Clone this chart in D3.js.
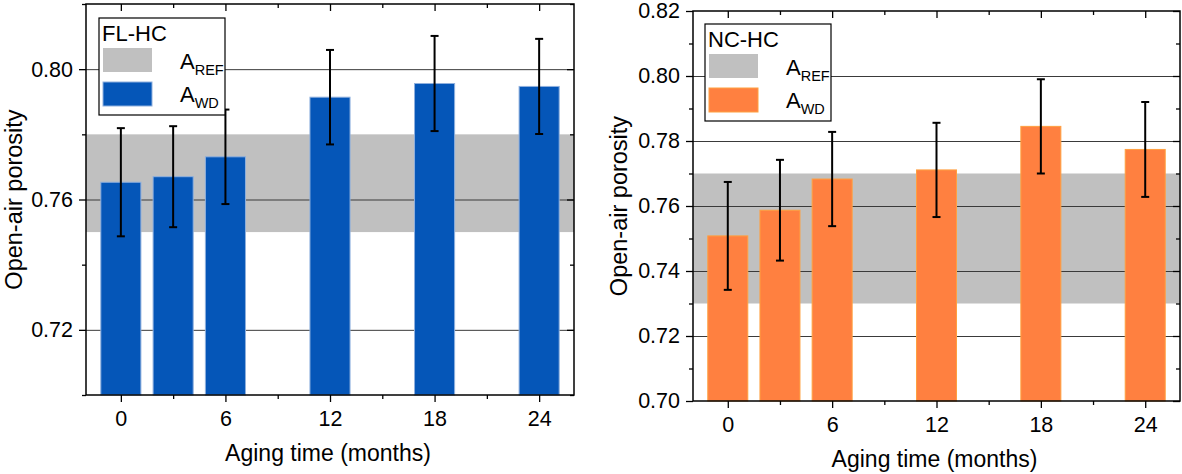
<!DOCTYPE html>
<html>
<head>
<meta charset="utf-8">
<script src="https://cdn.jsdelivr.net/npm/d3@7"></script>
<style>
  html, body { margin: 0; padding: 0; background: #fff; }
  svg { display: block; }
  text { font-family: "Liberation Sans", Arial, sans-serif; fill: #000; }
</style>
</head>
<body>
<svg id="chart" width="1182" height="474"></svg>
<script>
// ---------- DATA ----------
const months = [0, 3, 6, 12, 18, 24];
const xTickValues = [0, 6, 12, 18, 24];
const xMinorTicks = [3, 9, 15, 21];

const flhcTitle = "FL-HC";
const flhcValues = [0.7653, 0.7670, 0.7731, 0.7914, 0.7956, 0.7947];
const flhcErrors = [0.0166, 0.0155, 0.0145, 0.0145, 0.0146, 0.0146];
const flhcRefBand = [0.75, 0.78];
const flhcYTicks = [0.72, 0.76, 0.80];
const flhcYMinor = [0.70, 0.74, 0.78, 0.82];

const nchcTitle = "NC-HC";
const nchcValues = [0.7508, 0.7587, 0.7683, 0.7711, 0.7845, 0.7774];
const nchcErrors = [0.0166, 0.0155, 0.0145, 0.0145, 0.0145, 0.0146];
const nchcRefBand = [0.73, 0.77];
const nchcYTicks = [0.70, 0.72, 0.74, 0.76, 0.78, 0.80, 0.82];
const nchcYMinor = [0.71, 0.73, 0.75, 0.77, 0.79, 0.81];

const yDomain = [0.70, 0.82];
const xDomain = [-2, 26];
const barWidthMonths = 2.3;

const svg = d3.select("#chart");

function drawPanel(opt) {
  const g = svg.append("g");
  const x = d3.scaleLinear().domain(xDomain).range([opt.left, opt.right]);
  const y = d3.scaleLinear().domain(yDomain).range([opt.bottom, opt.top]);
  const W = opt.right - opt.left, H = opt.bottom - opt.top;

  // reference band
  g.append("rect")
    .attr("x", opt.left).attr("width", W)
    .attr("y", y(opt.band[1])).attr("height", y(opt.band[0]) - y(opt.band[1]))
    .attr("fill", "#c0c0c0");

  // grid lines
  g.append("g").selectAll("line").data(opt.yTicks.filter(v => v > yDomain[0] && v < yDomain[1]))
    .join("line")
    .attr("x1", opt.left).attr("x2", opt.right)
    .attr("y1", d => y(d) + 0.5).attr("y2", d => y(d) + 0.5)
    .attr("stroke", "#3a3a3a").attr("stroke-width", 1);

  // bars
  const bw = x(barWidthMonths) - x(0);
  g.append("g").selectAll("rect").data(months.map((m, i) => ({m, v: opt.values[i], e: opt.errors[i]})))
    .join("rect")
    .attr("x", d => x(d.m) - bw / 2)
    .attr("width", bw)
    .attr("y", d => y(d.v))
    .attr("height", d => y(yDomain[0]) - y(d.v))
    .attr("fill", opt.color)
    .attr("stroke", opt.edge).attr("stroke-width", 1);

  // error bars
  const eg = g.append("g").attr("stroke", "#000").attr("stroke-width", 2);
  months.forEach((m, i) => {
    const cx = x(m), hi = y(opt.values[i] + opt.errors[i]), lo = y(opt.values[i] - opt.errors[i]);
    eg.append("line").attr("x1", cx).attr("x2", cx).attr("y1", hi).attr("y2", lo);
    eg.append("line").attr("x1", cx - 4).attr("x2", cx + 4).attr("y1", hi).attr("y2", hi);
    eg.append("line").attr("x1", cx - 4).attr("x2", cx + 4).attr("y1", lo).attr("y2", lo);
  });

  // axes (bottom: outward, left: outward, top/right: inward)
  const axB = g.append("g").attr("transform", `translate(0,${opt.bottom})`)
    .call(d3.axisBottom(x).tickValues(xTickValues).tickSize(7).tickPadding(9).tickFormat(d3.format("d")));
  const axBm = g.append("g").attr("transform", `translate(0,${opt.bottom})`)
    .call(d3.axisBottom(x).tickValues(xMinorTicks).tickSize(4).tickFormat(""));
  const axT = g.append("g").attr("transform", `translate(0,${opt.top})`)
    .call(d3.axisTop(x).tickValues(xTickValues).tickSize(-7).tickFormat(""));
  const axTm = g.append("g").attr("transform", `translate(0,${opt.top})`)
    .call(d3.axisTop(x).tickValues(xMinorTicks).tickSize(-4).tickFormat(""));
  const axL = g.append("g").attr("transform", `translate(${opt.left},0)`)
    .call(d3.axisLeft(y).tickValues(opt.yTicks).tickSize(7).tickPadding(6).tickFormat(d3.format(".2f")));
  const axLm = g.append("g").attr("transform", `translate(${opt.left},0)`)
    .call(d3.axisLeft(y).tickValues(opt.yMinor).tickSize(4).tickFormat(""));
  const axR = g.append("g").attr("transform", `translate(${opt.right},0)`)
    .call(d3.axisRight(y).tickValues(opt.yTicks).tickSize(-7).tickFormat(""));
  const axRm = g.append("g").attr("transform", `translate(${opt.right},0)`)
    .call(d3.axisRight(y).tickValues(opt.yMinor).tickSize(-4).tickFormat(""));

  [axB, axBm, axT, axTm, axL, axLm, axR, axRm].forEach(a => {
    a.select(".domain").remove();
    a.selectAll(".tick line").attr("stroke", "#000").attr("stroke-width", 1.3);
    a.selectAll("text").attr("font-size", 21.5).attr("fill", "#000");
  });

  // frame
  g.append("rect").attr("x", opt.left).attr("y", opt.top).attr("width", W).attr("height", H)
    .attr("fill", "none").attr("stroke", "#000").attr("stroke-width", 1.5);

  // axis titles
  g.append("text").attr("x", (opt.left + opt.right) / 2 - 2).attr("y", opt.bottom + 66)
    .attr("text-anchor", "middle").attr("font-size", 23).text("Aging time (months)");
  g.append("text").attr("transform", `translate(${opt.yTitleX},${(opt.top + opt.bottom) / 2}) rotate(-90)`)
    .attr("text-anchor", "middle").attr("font-size", 23.5).text("Open-air porosity");

  // legend
  const lg = g.append("g").attr("transform", `translate(${opt.legX},${opt.legY})`);
  lg.append("rect").attr("x", 0).attr("y", 0).attr("width", 126).attr("height", 97)
    .attr("fill", "#fff").attr("stroke", "#000").attr("stroke-width", 1.2);
  lg.append("text").attr("x", 3).attr("y", 23).attr("font-size", 22).text(opt.title);
  lg.append("rect").attr("x", 4).attr("y", 30).attr("width", 49).attr("height", 24).attr("fill", "#c0c0c0");
  lg.append("rect").attr("x", 4).attr("y", 64).attr("width", 49).attr("height", 24)
    .attr("fill", opt.color).attr("stroke", opt.edge).attr("stroke-width", 1);
  const t1 = lg.append("text").attr("x", 81).attr("y", 51).attr("font-size", 22);
  t1.append("tspan").text("A");
  t1.append("tspan").attr("font-size", 14.5).attr("dy", 6).text("REF");
  const t2 = lg.append("text").attr("x", 81).attr("y", 84).attr("font-size", 22);
  t2.append("tspan").text("A");
  t2.append("tspan").attr("font-size", 14.5).attr("dy", 6).text("WD");
}

drawPanel({
  left: 86, right: 574, top: 4, bottom: 395,
  values: flhcValues, errors: flhcErrors, band: flhcRefBand,
  yTicks: flhcYTicks, yMinor: flhcYMinor,
  color: "#0556b8", edge: "#8fb0de",
  title: flhcTitle, legX: 99, legY: 18, yTitleX: 22
});
drawPanel({
  left: 693, right: 1180, top: 11, bottom: 401,
  values: nchcValues, errors: nchcErrors, band: nchcRefBand,
  yTicks: nchcYTicks, yMinor: nchcYMinor,
  color: "#ff8040", edge: "#ffa040",
  title: nchcTitle, legX: 705, legY: 24, yTitleX: 627
});
</script>
</body>
</html>
